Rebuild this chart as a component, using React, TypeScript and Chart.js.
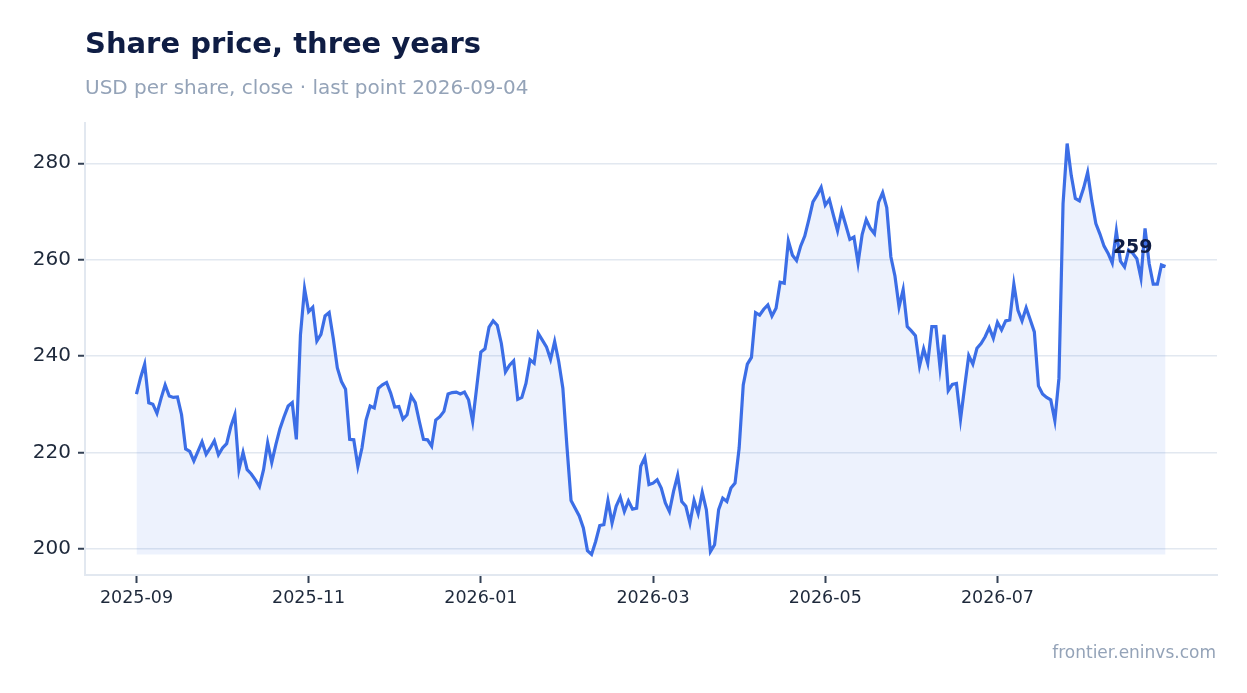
import { useEffect, useRef } from 'react';
import { Chart, registerables } from 'chart.js';

Chart.register(...registerables);

// one label per 21 trading days, a tick every two months
const MONTHS = [
	'2025-09', '2025-10', '2025-11', '2025-12', '2026-01', '2026-02',
	'2026-03', '2026-04', '2026-05', '2026-06', '2026-07', '2026-08',
];
const DAYS_PER_MONTH = 21;
const TICK_EVERY = 42;
const Y_STEP = 20;

const TITLE = 'Share price, three years';
const SUBTITLE = 'USD per share, close · last point 2026-09-04';
const SOURCE = 'frontier.eninvs.com';

// daily close, USD
const PRICES = [
	232.1, 235.5, 238.3, 230.3, 230.0, 228.1, 231.2, 234.0, 231.7, 231.4,
	231.5, 227.8, 220.7, 220.2, 218.2, 220.2, 222.2, 219.6, 220.9, 222.4,
	219.5, 220.9, 221.8, 225.3, 227.8, 216.4, 220.0, 216.4, 215.5, 214.3,
	212.9, 216.4, 222.0, 217.9, 221.6, 224.9, 227.4, 229.6, 230.3, 222.7,
	244.4, 254.0, 249.2, 250.1, 243.1, 244.5, 248.3, 249.0, 243.7, 237.5,
	234.7, 233.1, 222.7,
	222.6, 217.1, 220.9, 226.7, 229.6, 229.2, 233.3, 234.0, 234.5, 232.3,
	229.4, 229.5, 226.9, 227.8, 231.7, 230.3, 226.4, 222.7, 222.6, 221.3,
	226.7, 227.4, 228.5, 232.1, 232.4, 232.5, 232.1, 232.5, 230.9, 226.4,
	233.6, 240.8, 241.5, 246.0, 247.3, 246.4, 242.6, 236.7, 238.1, 239.0,
	231.0, 231.4, 234.3, 239.2, 238.5, 244.7, 243.3, 241.9, 239.3, 243.0,
	238.8,
	233.3, 221.2, 210.0, 208.4, 206.8, 204.3, 199.6, 198.8, 201.5, 204.8,
	205.0, 210.0, 205.3, 208.8, 210.7, 207.7, 209.9, 208.2, 208.4, 217.1,
	218.9, 213.3, 213.6, 214.3, 212.6, 209.5, 207.7, 211.9, 215.2, 209.8,
	208.8, 205.3, 210.0, 207.3, 211.7, 208.1, 199.4, 200.8, 208.1, 210.5,
	209.8, 212.6, 213.6, 220.9, 234.0, 238.3, 239.7,
	249.0, 248.5, 249.7, 250.6, 248.3, 249.9, 255.3, 255.1, 263.9, 260.9,
	259.8, 262.8, 264.9, 268.3, 272.0, 273.4, 275.0, 271.3, 272.5, 269.2,
	266.0, 270.1, 267.2, 264.2, 264.7, 259.3, 265.2, 268.3, 266.5, 265.4,
	271.9, 273.9, 270.8, 260.6, 256.6, 250.2, 253.8, 246.1, 245.2, 244.2,
	237.9, 241.5, 238.5, 246.1, 246.1, 237.5, 244.4, 232.8, 234.1, 234.3,
	226.9, 233.6, 240.1, 238.3, 241.6, 242.6, 244.0, 245.9, 243.7, 247.0,
	245.4, 247.3, 247.5, 254.9, 249.5, 247.3, 250.0, 247.5, 245.0, 233.8,
	232.1, 231.4, 230.9, 226.6, 235.4, 271.6, 284.1, 277.5, 272.7, 272.2,
	274.8, 278.1, 272.3, 267.5, 265.3, 262.8, 261.3, 259.3, 265.9, 259.7,
	258.5, 262.0, 261.3, 260.2, 256.2, 266.5, 259.2, 254.9, 254.9, 258.9,
	258.6,
];

const FONT = '"DejaVu Sans", sans-serif';
const LINE = '#3c6ee6';
const INK = '#0f1d44';
const MUTED = '#94a3b8';
const TICK_TEXT = '#1e293b';
const GRID = '#e2e8f0';

// title, subtitle, source and the last-value label
const textPlugin = {
	id: 'texts',
	afterDraw(chart: Chart) {
		const { ctx, chartArea } = chart;
		ctx.save();
		ctx.textBaseline = 'alphabetic';
		ctx.textAlign = 'left';
		ctx.fillStyle = INK;
		ctx.font = `bold 29px ${FONT}`;
		ctx.fillText(TITLE, chartArea.left, 53);
		ctx.fillStyle = MUTED;
		ctx.font = `20px ${FONT}`;
		ctx.fillText(SUBTITLE, chartArea.left, 94);
		ctx.textAlign = 'right';
		ctx.font = `17px ${FONT}`;
		ctx.fillText(SOURCE, chartArea.right - 1, 658);

		const pts = chart.getDatasetMeta(0).data;
		const last = pts[pts.length - 1];
		if (last) {
			ctx.fillStyle = INK;
			ctx.font = `bold 19px ${FONT}`;
			ctx.fillText(String(Math.round(PRICES[PRICES.length - 1])), last.x - 13, last.y - 13);
		}
		ctx.restore();
	},
};

const App = () => {
	const canvasRef = useRef<HTMLCanvasElement | null>(null);

	useEffect(() => {
		if (!canvasRef.current) return;
		const n = PRICES.length;
		const lo = Math.min(...PRICES);
		const hi = Math.max(...PRICES);
		const yPad = (hi - lo) * 0.05;
		const xPad = (n - 1) * 0.05;

		const chart = new Chart(canvasRef.current, {
			type: 'line',
			data: {
				datasets: [
					{
						data: PRICES.map((y, i) => ({ x: i, y })),
						borderColor: LINE,
						borderWidth: 3.2,
						backgroundColor: 'rgba(60, 110, 230, 0.09)',
						fill: { value: lo },
						pointRadius: 0,
						tension: 0,
					},
				],
			},
			options: {
				animation: false,
				responsive: false,
				layout: { padding: { left: 0, top: 123, right: 30, bottom: 0 } },
				plugins: {
					legend: { display: false },
					tooltip: { enabled: false },
				},
				scales: {
					x: {
						type: 'linear',
						bounds: 'data',
						min: -xPad,
						max: n - 1 + xPad,
						afterBuildTicks: (scale: any) => {
							const ticks = [];
							for (let v = 0; v < n; v += TICK_EVERY) ticks.push({ value: v });
							scale.ticks = ticks;
						},
						afterFit: (scale: any) => {
							scale.height = 118;
						},
						ticks: {
							autoSkip: false,
							maxRotation: 0,
							padding: 5,
							color: TICK_TEXT,
							font: { family: FONT, size: 17.5 },
							callback: (value: any) => MONTHS[Math.round(Number(value) / DAYS_PER_MONTH)] ?? '',
						},
						grid: {
							drawOnChartArea: false,
							drawTicks: true,
							tickLength: 8,
							tickColor: '#334155',
							tickWidth: 2,
						},
						border: { color: GRID, width: 2 },
					},
					y: {
						type: 'linear',
						bounds: 'data',
						min: lo - yPad,
						max: hi + yPad,
						afterBuildTicks: (scale: any) => {
							const ticks = [];
							for (let v = Math.ceil(scale.min / Y_STEP) * Y_STEP; v <= scale.max; v += Y_STEP) {
								ticks.push({ value: v });
							}
							scale.ticks = ticks;
						},
						afterFit: (scale: any) => {
							scale.width = 85;
						},
						ticks: {
							padding: 7,
							color: TICK_TEXT,
							font: { family: FONT, size: 20 },
						},
						grid: {
							color: GRID,
							lineWidth: 1.5,
							drawTicks: true,
							tickLength: 7,
							tickColor: '#334155',
							tickWidth: 2,
						},
						border: { color: GRID, width: 2 },
					},
				},
			},
			plugins: [textPlugin],
		});

		return () => chart.destroy();
	}, []);

	return (
		<div style={{ position: 'absolute', left: 0, top: 0, width: 1247, height: 693, background: '#fff' }}>
			<canvas ref={canvasRef} width={1247} height={693}></canvas>
		</div>
	);
};

export default App;
